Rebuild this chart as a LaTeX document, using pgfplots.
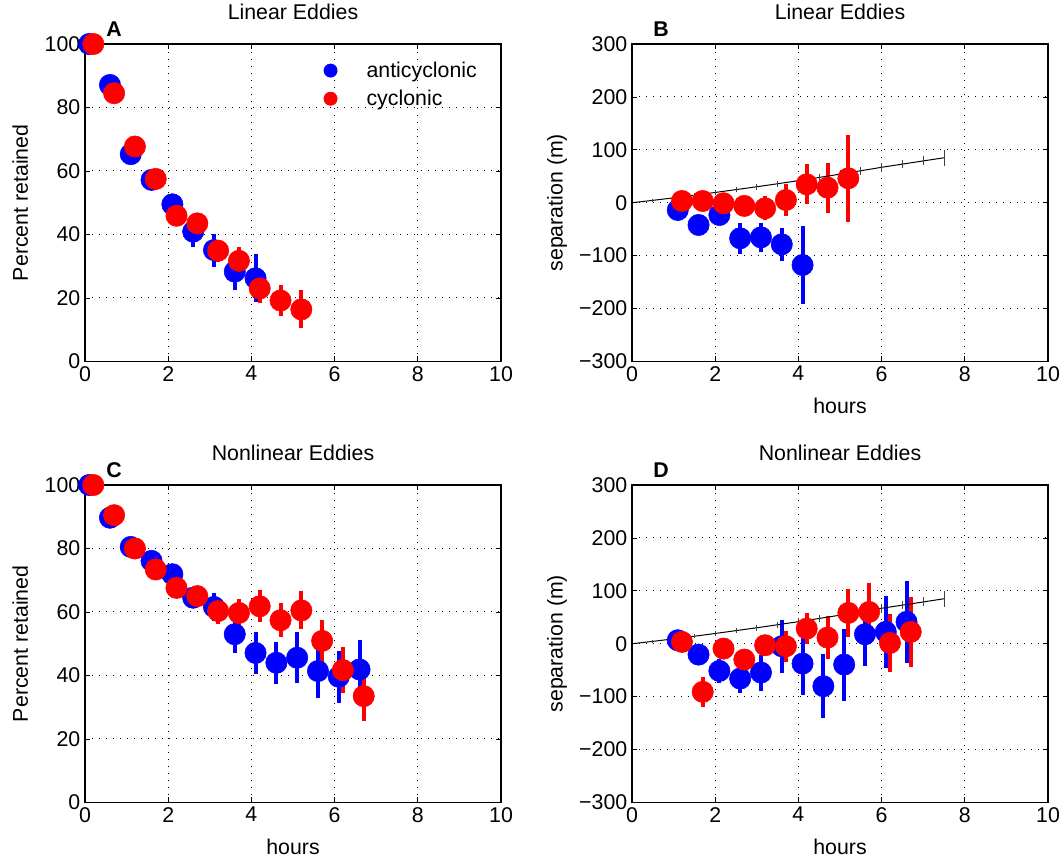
\documentclass[border=0pt]{standalone}
\usepackage{fontspec}
\setmainfont{Liberation Sans}
\usepackage{pgfplots}
\pgfplotsset{compat=1.18}

\definecolor{mblue}{RGB}{0,0,255}
\definecolor{mred}{RGB}{255,0,0}

\newcommand{\figfont}{\fontsize{16}{19}\selectfont}

\pgfplotsset{
  panel/.style={
    width=312pt, height=238.1pt, scale only axis,
    xmin=0, xmax=10, xtick={0,2,...,10},
    clip=false,
    axis line style={line width=0.9pt},
    tick align=inside, major tick length=4pt,
    tick style={black, line width=0.6pt},
    grid=major,
    major grid style={black, line width=0.75pt, dash pattern=on 0.75pt off 4.5pt},
    /pgf/number format/assume math mode=true,
    title style={at={(0.5,1)}, anchor=base, yshift=12.75pt},
    xlabel style={at={(axis description cs:0.5,-0.163)}, anchor=base},
  },
  pct/.style={ymin=0, ymax=100, ytick={0,20,...,100},
    ylabel={Percent retained},
    ylabel style={at={(axis description cs:-0.1555,0.5)}, anchor=center}},
  sep/.style={ymin=-300, ymax=300, ytick={-300,-200,...,300},
    yticklabels={−300,−200,−100,0,100,200,300},
    ylabel={separation (m)},
    ylabel style={at={(axis description cs:-0.180,0.5)}, anchor=center}},
  dots/.style={only marks, mark=*, mark size=8pt, forget plot,
    #1, error bars/.cd, y dir=both, y explicit, error mark=none,
    error bar style={line width=3pt, #1}},
  refline/.style={black, line width=0.75pt, mark=none, forget plot,
    error bars/.cd, y dir=both, y explicit, error mark=none,
    error bar style={line width=0.75pt, black!75}},
}

% panel labels
\newcommand{\plabel}[1]{\node[anchor=base, yshift=6pt, font=\figfont\bfseries] at (rel axis cs:0.07,1) {#1};}

% reference line (hours, separation, tick half-length)
\pgfplotstableread{
x y e
0 0 0
0.5 4.5 3
1 9.2 3.5
1.5 14.2 4
2 19.4 4.5
2.5 24.8 5
3 30.2 5.5
3.5 35.9 6
4 41.7 6.5
4.5 47.8 7
5 54 7
5.5 60.4 7.5
6 67 8
6.5 73 8
7 79 8.5
7.5 85 15
}\reftab

\begin{document}
\begin{tikzpicture}[font=\figfont]

% ---- A ----
\begin{axis}[panel, pct, at={(0pt,0pt)}, anchor=north west,
  title={Linear Eddies},
  legend style={draw=none, fill=none, at={(axis description cs:0.564,0.872)},
    anchor=west, row sep=4pt},
  legend cell align=left]
\addplot[dots=mblue] table[x=x, y=y, y error=e] {
x y e
0.1 100 0
0.6 87.1 1
1.1 65.3 1.5
1.6 57.2 2
2.1 49.5 3
2.6 40.9 4.7
3.1 35.1 5.2
3.6 28.3 5.8
4.1 26.2 7.5
};
\addplot[dots=mred] table[x=x, y=y, y error=e] {
x y e
0.2 100 0
0.7 84.5 1
1.2 67.7 1.5
1.7 57.5 2
2.2 45.9 2.5
2.7 43.5 3
3.2 34.9 3.5
3.7 31.7 4.4
4.2 23.0 4.5
4.7 19.2 4.9
5.2 16.4 6
};
\addlegendimage{only marks, mark=*, mark size=5pt, mblue}
\addlegendentry{\hspace{20pt}anticyclonic}
\addlegendimage{only marks, mark=*, mark size=5pt, mred}
\addlegendentry{\hspace{20pt}cyclonic}
\plabel{A}
\end{axis}

% ---- B ----
\begin{axis}[panel, sep, at={(410.25pt,0pt)}, anchor=north west,
  title={Linear Eddies}, xlabel={hours}]
\addplot[dots=mblue] table[x=x, y=y, y error=e] {
x y e
1.1 -13.7 5
1.6 -42 8
2.1 -23.2 8
2.6 -67.2 29
3.1 -65.4 28
3.6 -78.6 31
4.1 -117.7 73
};
\addplot[dots=mred] table[x=x, y=y, y error=e] {
x y e
1.2 3.3 5
1.7 3.3 8
2.2 -1 8
2.7 -6 10
3.2 -10.5 23
3.7 5.2 31
4.2 34.8 38
4.7 28.5 47
5.2 46.2 82
};
\addplot[refline] table[x=x, y=y, y error=e] {\reftab};
\plabel{B}
\end{axis}

% ---- C ----
\begin{axis}[panel, pct, at={(0pt,-330.75pt)}, anchor=north west,
  title={Nonlinear Eddies}, xlabel={hours}]
\addplot[dots=mblue] table[x=x, y=y, y error=e] {
x y e
0.1 100 0
0.6 89.7 1
1.1 80.5 1.5
1.6 76.1 2
2.1 71.9 2.5
2.6 64.5 3
3.1 61.6 4.3
3.6 53.0 6
4.1 47.1 6.5
4.6 44.0 6.6
5.1 45.6 8
5.6 41.4 8.4
6.1 39.6 8.2
6.6 41.9 9.4
};
\addplot[dots=mred] table[x=x, y=y, y error=e] {
x y e
0.2 100 0
0.7 90.5 1
1.2 80.0 1.5
1.7 73.4 2
2.2 67.6 2.5
2.7 65.0 3
3.2 60.3 4.2
3.7 59.7 4.5
4.2 61.8 5
4.7 57.4 5.4
5.2 60.5 6
5.7 50.9 6.6
6.2 41.7 7.3
6.7 33.5 7.9
};
\plabel{C}
\end{axis}

% ---- D ----
\begin{axis}[panel, sep, at={(410.25pt,-330.75pt)}, anchor=north west,
  title={Nonlinear Eddies}, xlabel={hours}]
\addplot[dots=mblue] table[x=x, y=y, y error=e] {
x y e
1.1 6.6 5
1.6 -20.5 8
2.1 -51.4 22
2.6 -65.8 28
3.1 -54.5 34
3.6 -4.7 50
4.1 -37.5 60
4.6 -80.3 60
5.1 -39.4 68
5.6 17.9 60
6.1 22.4 68
6.6 41.3 78
};
\addplot[dots=mred] table[x=x, y=y, y error=e] {
x y e
1.2 3.5 5
1.7 -91 28
2.2 -9.2 10
2.7 -30 15
3.2 -2.8 15
3.7 -4.7 29
4.2 28.6 30
4.7 11.6 41
5.2 58.2 46
5.7 60.1 54
6.2 1.5 55
6.7 22.4 66
};
\addplot[refline] table[x=x, y=y, y error=e] {\reftab};
\plabel{D}
\end{axis}

\pgfresetboundingbox
\path[use as bounding box] (-63.75pt,33pt) rectangle (732.75pt,-609.75pt);
\end{tikzpicture}
\end{document}
